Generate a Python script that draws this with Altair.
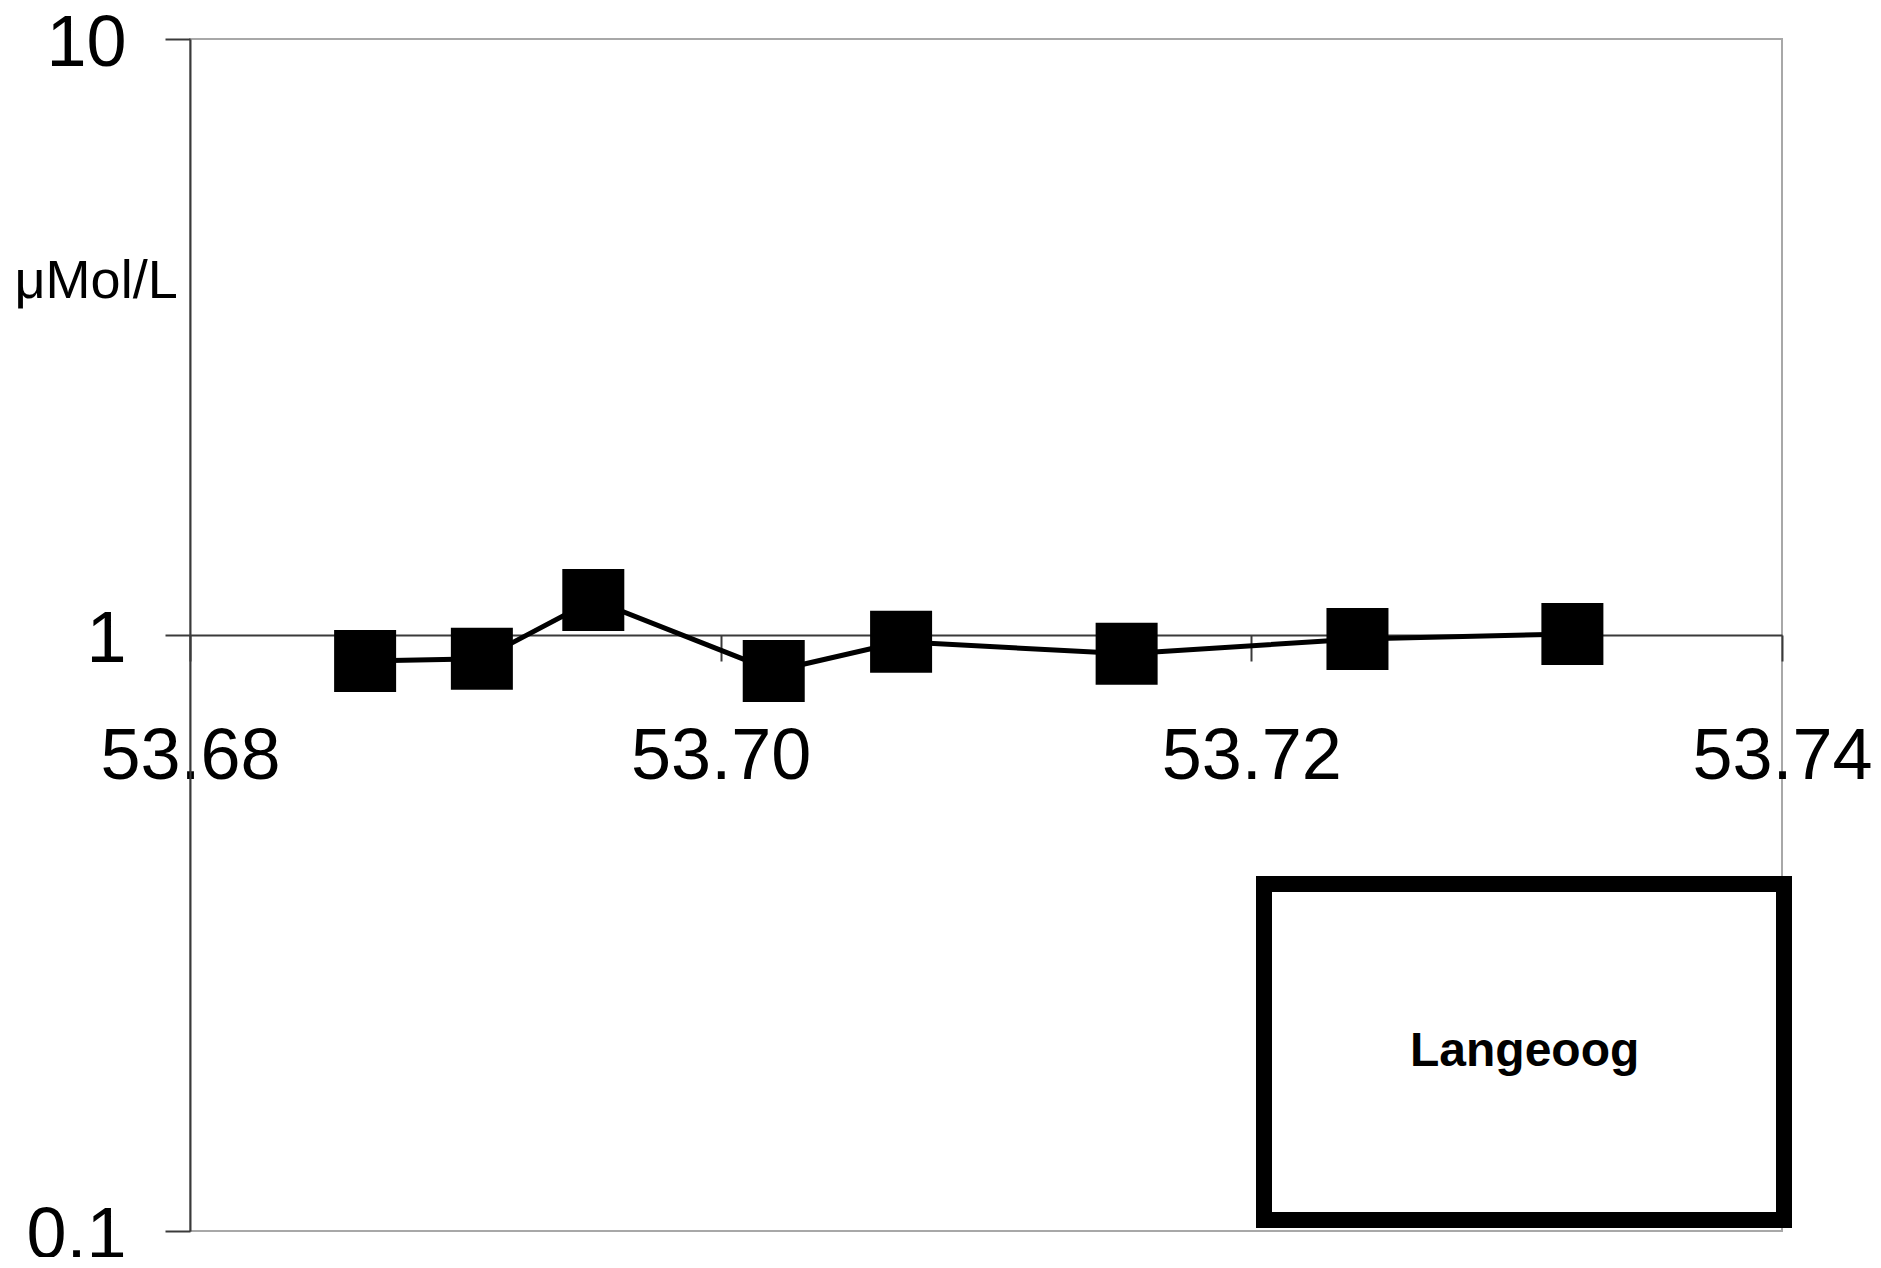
import altair as alt
import pandas as pd

# Values
latitude = [53.6866, 53.6910, 53.6952, 53.7020, 53.7068, 53.7153, 53.7240, 53.7321]
concentration = [0.904, 0.912, 1.145, 0.870, 0.974, 0.930, 0.985, 1.004]
site = ["Langeoog"] * len(latitude)
x_ticks = [53.68, 53.70, 53.72, 53.74]
y_ticks = [0.1, 1, 10]
y_title = "μMol/L"

W, H = 1592, 1192
FONT = "Liberation Sans"
AXIS_DARK = "#3a3a3a"

df = pd.DataFrame({"lat": latitude, "conc": concentration, "site": site})

x_enc = alt.X(
    "lat:Q",
    scale=alt.Scale(domain=[x_ticks[0], x_ticks[-1]], zero=False, nice=False),
    axis=alt.Axis(
        values=x_ticks, format=".2f", title=None, grid=False,
        offset=-H / 2, orient="bottom",
        domainColor=AXIS_DARK, domainWidth=2,
        tickColor=AXIS_DARK, tickWidth=2, tickSize=26,
        labelFont=FONT, labelFontSize=72, labelColor="black", labelLimit=0,
        labelPadding=60, labelFlush=False, labelOverlap=False, labelBound=False,
    ),
)

y_enc = alt.Y(
    "conc:Q",
    scale=alt.Scale(type="log", domain=[y_ticks[0], y_ticks[-1]], nice=False),
    axis=alt.Axis(
        values=y_ticks, format="~g", grid=False, orient="left",
        domainColor=AXIS_DARK, domainWidth=2,
        tickColor=AXIS_DARK, tickWidth=2, tickSize=25,
        labelFont=FONT, labelFontSize=72, labelColor="black", labelLimit=0,
        labelPadding=39, labelOffset=4, labelBaseline="middle", labelOverlap=False,
        labelBound=False, labelFlush=False,
        title=y_title, titleAngle=0, titleFont=FONT, titleFontSize=54,
        titleFontWeight="normal", titleColor="black", titleAlign="left",
        titleBaseline="alphabetic", titleX=-176, titleY=258, titleLimit=0,
    ),
)

color_enc = alt.Color(
    "site:N",
    scale=alt.Scale(range=["black"]),
    legend=alt.Legend(
        title=None, orient="none", legendX=1074, legendY=845,
        padding=144, fillColor="white", strokeColor="black",
        symbolSize=0, symbolOpacity=0, symbolStrokeWidth=0,
        labelOffset={"expr": "-46"},
        labelFont=FONT, labelFontSize=48, labelFontWeight="bold",
        labelColor="black", labelLimit=0,
    ),
)

line = alt.Chart(df).mark_line(strokeWidth=5).encode(x=x_enc, y=y_enc, color=color_enc)
points = alt.Chart(df).mark_point(
    shape="square", filled=True, size=3844, opacity=1
).encode(x=x_enc, y=y_enc, color=color_enc)

chart = (
    alt.layer(line, points)
    .properties(
        width=W, height=H,
        autosize=alt.AutoSizeParams(type="none"),
        padding={"left": 182, "top": 31, "right": 90, "bottom": 26},
        background="white",
    )
    .configure_view(stroke="#a8a8a8", strokeWidth=2)
    .configure_legend(strokeWidth=16)
)

chart.save("out.html", embed_options={"renderer": "svg", "actions": False})
